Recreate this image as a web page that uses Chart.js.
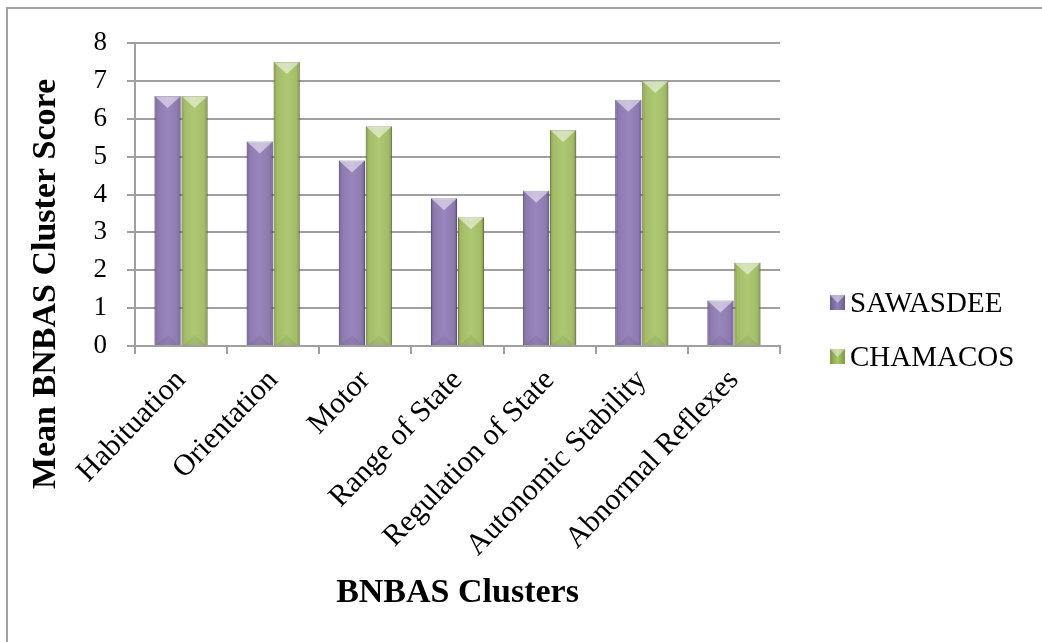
<!DOCTYPE html>
<html lang="en">
<head>
    <meta charset="UTF-8">
    <title>Mean BNBAS Cluster Score</title>
    <script src="https://cdn.jsdelivr.net/npm/chart.js"></script>
    <style>
        body {
            margin: 0;
            padding: 0;
            background: #ffffff;
        }

        .frame {
            position: absolute;
            left: 6px;
            top: 7px;
            width: 1100px;
            height: 700px;
            border-top: 2px solid #a3a3a3;
            border-left: 2px solid #a3a3a3;
        }

        .chart-box {
            position: absolute;
            left: 0;
            top: 0;
            width: 1042px;
            height: 642px;
        }
    </style>
</head>
<body>
    <div class="frame"></div>
    <div class="chart-box">
        <canvas id="bnbasChart"></canvas>
    </div>

    <script>
        // chart data
        var categories = ['Habituation', 'Orientation', 'Motor', 'Range of State',
                          'Regulation of State', 'Autonomic Stability', 'Abnormal Reflexes'];
        var sawasdee = [6.6, 5.4, 4.9, 3.9, 4.1, 6.5, 1.2];
        var chamacos = [6.6, 7.5, 5.8, 3.4, 5.7, 7.0, 2.2];
        var yTicks = [0, 1, 2, 3, 4, 5, 6, 7, 8];

        var serif = "'Liberation Serif', 'Times New Roman', serif";

        // excel-ish bevel on top of each bar
        var bevelPlugin = {
            id: 'bevel',
            afterDatasetsDraw: function(chart) {
                var ctx = chart.ctx;
                chart.data.datasets.forEach(function(ds, i) {
                    var meta = chart.getDatasetMeta(i);
                    meta.data.forEach(function(bar) {
                        var p = bar.getProps(['x', 'y', 'base', 'width'], true);
                        var left = p.x - p.width / 2;
                        var right = p.x + p.width / 2;
                        var top = Math.min(p.y, p.base);
                        var bottom = Math.max(p.y, p.base);

                        ctx.save();
                        // darker sides
                        var g = ctx.createLinearGradient(left, 0, right, 0);
                        g.addColorStop(0, 'rgba(0,0,0,0.22)');
                        g.addColorStop(0.12, 'rgba(0,0,0,0.05)');
                        g.addColorStop(0.5, 'rgba(255,255,255,0.04)');
                        g.addColorStop(0.88, 'rgba(0,0,0,0.05)');
                        g.addColorStop(1, 'rgba(0,0,0,0.28)');
                        ctx.fillStyle = g;
                        ctx.fillRect(left, top, p.width, bottom - top);

                        // light chevron at the top
                        var h = Math.min(12, (bottom - top) / 2);
                        ctx.beginPath();
                        ctx.moveTo(left, top);
                        ctx.lineTo(right, top);
                        ctx.lineTo(p.x, top + h);
                        ctx.closePath();
                        ctx.fillStyle = 'rgba(255,255,255,0.5)';
                        ctx.fill();

                        // faint chevron at the bottom
                        ctx.beginPath();
                        ctx.moveTo(left + 2, bottom);
                        ctx.lineTo(right - 2, bottom);
                        ctx.lineTo(p.x, bottom - 10);
                        ctx.closePath();
                        ctx.fillStyle = 'rgba(0,0,0,0.06)';
                        ctx.fill();
                        ctx.restore();
                    });
                });
            }
        };

        // y axis title and legend
        var labelsPlugin = {
            id: 'labels',
            afterDraw: function(chart) {
                var ctx = chart.ctx;
                ctx.save();
                ctx.fillStyle = '#000000';
                ctx.font = 'bold 34px ' + serif;
                ctx.textAlign = 'center';
                ctx.textBaseline = 'middle';
                ctx.translate(46, 284);
                ctx.rotate(-Math.PI / 2);
                ctx.fillText('Mean BNBAS Cluster Score', 0, 0);
                ctx.restore();

                ctx.save();
                chart.data.datasets.forEach(function(ds, i) {
                    var y = 303 + i * 54;
                    var g = ctx.createLinearGradient(830, 0, 845, 0);
                    g.addColorStop(0, ds.borderColor);
                    g.addColorStop(0.5, ds.backgroundColor);
                    g.addColorStop(1, ds.borderColor);
                    ctx.fillStyle = g;
                    ctx.fillRect(830, y - 8, 15, 15);
                    ctx.beginPath();
                    ctx.moveTo(830, y - 8);
                    ctx.lineTo(845, y - 8);
                    ctx.lineTo(837.5, y);
                    ctx.closePath();
                    ctx.fillStyle = 'rgba(255,255,255,0.45)';
                    ctx.fill();
                    ctx.fillStyle = '#000000';
                    ctx.font = '29px ' + serif;
                    ctx.textAlign = 'left';
                    ctx.textBaseline = 'middle';
                    ctx.fillText(ds.label, 850, y + 1);
                });
                ctx.restore();
            }
        };

        var ctx = document.getElementById('bnbasChart').getContext('2d');
        var chart = new Chart(ctx, {
            type: 'bar',
            data: {
                labels: categories,
                datasets: [{
                    label: 'SAWASDEE',
                    data: sawasdee,
                    backgroundColor: '#9480b8',
                    borderColor: '#6d5b8f',
                    borderWidth: 1
                }, {
                    label: 'CHAMACOS',
                    data: chamacos,
                    backgroundColor: '#abc56d',
                    borderColor: '#7e9746',
                    borderWidth: 1
                }]
            },
            options: {
                responsive: true,
                maintainAspectRatio: false,
                animation: false,
                categoryPercentage: 0.585,
                barPercentage: 0.97,
                layout: {
                    padding: { top: 43, right: 262, bottom: 24, left: 0 }
                },
                plugins: {
                    legend: { display: false },
                    tooltip: { enabled: false }
                },
                scales: {
                    x: {
                        grid: {
                            drawOnChartArea: false,
                            drawTicks: true,
                            tickLength: 8,
                            color: '#a0a0a0',
                            lineWidth: 2
                        },
                        border: { color: '#a0a0a0', width: 2 },
                        ticks: {
                            color: '#000000',
                            font: { family: serif, size: 30 },
                            minRotation: 46,
                            maxRotation: 46,
                            padding: 9,
                            autoSkip: false
                        },
                        title: {
                            display: true,
                            text: 'BNBAS Clusters',
                            color: '#000000',
                            font: { family: serif, size: 34, weight: 'bold' },
                            padding: { top: 4, bottom: 4 }
                        },
                        afterFit: function(scale) {
                            scale.height = 642 - 346 - 24;
                        }
                    },
                    y: {
                        min: 0,
                        max: 8,
                        afterBuildTicks: function(scale) {
                            scale.ticks = yTicks.map(function(v) { return { value: v }; });
                        },
                        grid: {
                            color: '#a0a0a0',
                            lineWidth: 2,
                            tickLength: 8
                        },
                        border: { color: '#a0a0a0', width: 2 },
                        ticks: {
                            color: '#000000',
                            font: { family: serif, size: 27 },
                            padding: 20
                        },
                        afterFit: function(scale) {
                            scale.width = 135;
                        }
                    }
                }
            },
            plugins: [bevelPlugin, labelsPlugin]
        });
    </script>
</body>
</html>
